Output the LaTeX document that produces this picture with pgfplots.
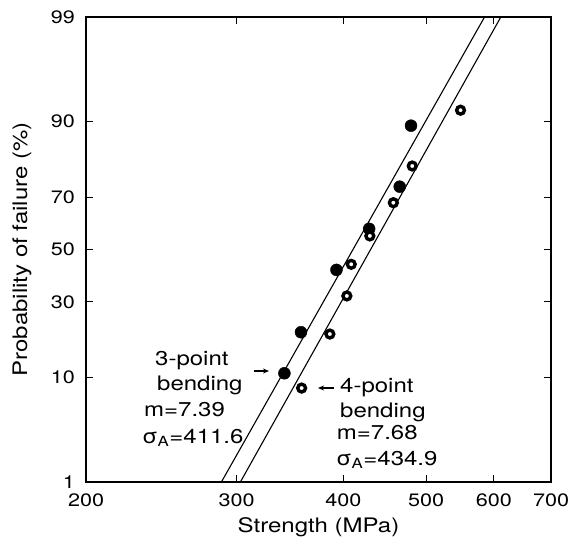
\documentclass[border=0pt]{standalone}
\usepackage{fontspec}
\setmainfont{TeX Gyre Heros}[FakeStretch=1.2]
\usepackage{pgfplots}
\pgfplotsset{compat=1.18}
\usetikzlibrary{arrows.meta}
\newcommand{\lblfont}{\fontsize{20bp}{24bp}\selectfont}
\newcommand{\tckfont}{\fontsize{18bp}{22bp}\selectfont}
\begin{document}
\begin{tikzpicture}
\useasboundingbox (-86bp,-65bp) rectangle (494bp,482bp);
\begin{axis}[
  at={(0,0)}, anchor=south west,
  width=465bp, height=465bp, scale only axis,
  xmode=log,
  xmin=200, xmax=700,
  ymin=1, ymax=99,
  y coord trafo/.code={%
    \pgfmathparse{#1/100}\let\Pp\pgfmathresult
    \pgfmathparse{min(\Pp,1-\Pp)}\let\Qq\pgfmathresult
    \pgfmathparse{sqrt(-2*ln(\Qq))}\let\Tt\pgfmathresult
    \pgfmathparse{\Tt-(2.515517+0.802853*\Tt+0.010328*\Tt*\Tt)/(1+1.432788*\Tt+0.189269*\Tt*\Tt+0.001308*\Tt*\Tt*\Tt)}\let\Xx\pgfmathresult
    \pgfmathparse{(\Pp<0.5 ? -1 : 1)*(\Xx)}%
  },
  xtick={200,300,400,500,600,700},
  xticklabels={200,300,400,500,600,700},
  minor xtick={},
  ytick={1,10,30,50,70,90,99},
  yticklabels={1,10,30,50,70,90,99},
  tick align=inside,
  major tick length=7bp,
  tick style={black, line width=1bp},
  axis line style={black, line width=1.8bp},
  ticklabel style={font=\tckfont, inner sep=0pt},
  /pgf/number format/assume math mode=true,
  yticklabel style={xshift=-11bp},
  xticklabel style={yshift=-12bp},
  clip=true,
]
% fitted lines
\addplot[black, line width=1.1bp] coordinates {(287.9,1) (585.5,99)};
\addplot[black, line width=1.1bp] coordinates {(303.0,1) (611.7,99)};
% 3-point bending (filled)
\addplot[only marks, mark=*, mark size=6bp, mark options={fill=black, draw=black}] table[x=s, y=p] {
s p
341.3 10.8
356.9 20.4
392.7 41.9
428.8 58.2
465.6 73.5
480.0 89.2
};
% 4-point bending (open)
\addplot[only marks, mark=*, mark size=3.9bp, mark options={fill=white, draw=black, line width=3.4bp}] table[x=s, y=p] {
s p
357.5 8.3
385.8 19.9
403.8 32.1
408.6 44.1
429.6 55.4
457.7 68.0
481.6 79.8
548.5 91.8
};
\end{axis}
% axis titles
\node[font=\lblfont, anchor=center] at (232.5bp,-45bp) {Strength (MPa)};
\node[font=\lblfont, anchor=center, rotate=90] at (-64bp,232.5bp) {Probability of failure (\%)};
% annotations
\begin{scope}[every node/.style={font=\lblfont, anchor=base west, inner sep=0pt}]
\node at (69bp,116.3bp) {3-point};
\node at (71bp,91.3bp) {bending};
\node at (58bp,65.3bp) {m=7.39};
\node at (56bp,38.7bp) {σ\textsubscript{A}=411.6};
\node at (254bp,89.3bp) {4-point};
\node at (254bp,64.3bp) {bending};
\node at (250.7bp,42bp) {m=7.68};
\node at (250bp,17bp) {σ\textsubscript{A}=434.9};
\end{scope}
\draw[-{Stealth[length=6bp,width=5bp]}, line width=1.2bp] (168bp,111bp) -- (183bp,111bp);
\draw[-{Stealth[length=6bp,width=5bp]}, line width=1.2bp] (248bp,94bp) -- (232bp,94bp);
\end{tikzpicture}
\end{document}
